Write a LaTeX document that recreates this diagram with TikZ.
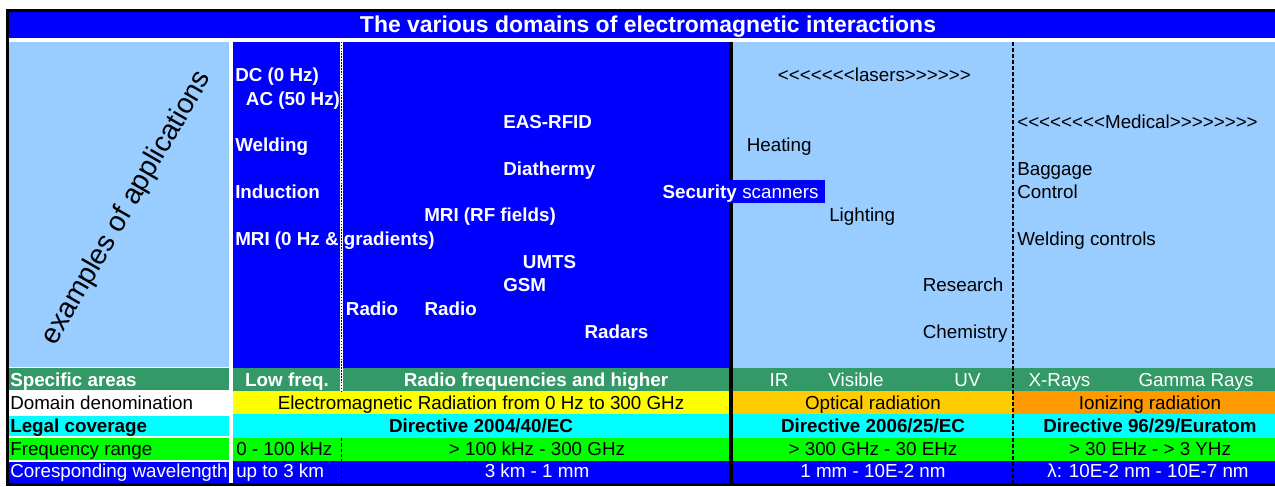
\documentclass[tikz,border=0pt]{standalone}
\usepackage{fontspec}
\setmainfont{Liberation Sans}
\definecolor{pureblue}{HTML}{0000FF}
\definecolor{paleblue}{HTML}{99CCFF}
\definecolor{seagrn}{HTML}{339966}
\definecolor{brightgrn}{HTML}{00FF00}
\definecolor{brightcyan}{HTML}{00FFFF}
\definecolor{brightyel}{HTML}{FFFF00}
\definecolor{goldyel}{HTML}{FFCC00}
\definecolor{brightorange}{HTML}{FF9900}
\newcommand\txtfont{\fontsize{14.1}{16}\selectfont}
\newcommand\headfont{\fontsize{17.2}{20}\selectfont}
\newcommand\slantfont{\fontsize{21.3}{25}\selectfont}
% single angle brackets, kept apart so that no guillemet ligature forms
\newcommand\lt{\mbox{<}}
\newcommand\gt{\mbox{>}}
\begin{document}
\begin{tikzpicture}[x=0.75pt,y=-0.75pt,
  appw/.style={anchor=base west, inner sep=0pt, font=\txtfont\bfseries, text=white},
  appk/.style={anchor=base west, inner sep=0pt, font=\txtfont, text=black},
  lbl/.style={anchor=base west, inner sep=0pt, font=\txtfont},
  mid/.style={anchor=base, inner sep=0pt, font=\txtfont},
  divider/.style={black, line width=1.1pt, dash pattern=on 3pt off 1.5pt}]
\useasboundingbox (0,0) rectangle (1275,486);

% outer frame and title band
\fill[black] (6,9) rectangle (1275,486);
\fill[white] (9,11.7) rectangle (1275,483);
\fill[pureblue] (9,11.7) rectangle (1275,37.7);

% application area
\fill[paleblue] (9,41.7) rectangle (229,366.5);
\fill[pureblue] (233,41.7) rectangle (729,367.5);
\fill[paleblue] (733,41.7) rectangle (1275,367.5);

% left column of the table
\fill[seagrn] (9,368.3) rectangle (229,390);
\fill[brightcyan] (9,416) rectangle (229,436.3);
\fill[brightgrn] (9,438.3) rectangle (229,460);
\fill[pureblue] (9,461.7) rectangle (229,483);

% table body
\fill[seagrn] (233,368.3) rectangle (1275,391);
\fill[brightyel] (233,391) rectangle (729,414);
\fill[goldyel] (733,391) rectangle (1013,414);
\fill[brightorange] (1013,391) rectangle (1275,414);
\fill[brightcyan] (233,414) rectangle (1275,438);
\fill[brightgrn] (233,438) rectangle (1275,461);
\fill[pureblue] (233,461) rectangle (1275,483);

% separators
\fill[black] (729,41.7) rectangle (733,483);
\fill[white] (339.5,41.7) rectangle (342.5,391);
\draw[black, line width=0.75pt, dash pattern=on 1.1pt off 1.1pt] (341,41.7) -- (341,391);
\draw[black, line width=0.75pt, dash pattern=on 2.5pt off 1.5pt] (341,438) -- (341,483);
\draw[divider] (1013,41.7) -- (1013,483);

% highlighted label crossing the boundary
\fill[pureblue] (729,180) rectangle (825,203);

% title
\node[anchor=base, inner sep=0pt, font=\headfont\bfseries, text=white] (title) at (648,32)
  {The various domains of electromagnetic interactions};

% rotated heading
\node[font=\slantfont, rotate=60] (apps) at (127,208) {examples of applications};

% low frequency and radio applications
\node[appw] (dc) at (235,81.7) {DC (0 Hz)};
\node[appw] (ac) at (245.7,105) {AC (50 Hz)};
\node[appw] (eas) at (503,128.3) {EAS-RFID};
\node[appw] (weld) at (235,151.7) {Welding};
\node[appw] (diat) at (503,175) {Diathermy};
\node[appw] (induc) at (235,198.3) {Induction};
\node[anchor=base east, inner sep=0pt, font=\txtfont\bfseries, text=white] (secu) at (737,198.3) {Security};
\node[anchor=base west, inner sep=0pt, font=\txtfont, text=white] (scan) at (742,198.3) {scanners};
\node[appw] (mrirf) at (424,221.7) {MRI (RF fields)};
\node[appw] (mrigr) at (235,245) {MRI (0 Hz \& gradients)};
\node[appw] (umts) at (522.7,268.3) {UMTS};
\node[appw] (gsm) at (503,291.7) {GSM};
\node[appw] (radioa) at (345.7,315) {Radio};
\node[appw] (radiob) at (424.3,315) {Radio};
\node[appw] (radars) at (584.3,338.3) {Radars};

% optical and ionizing applications
\node[appk] (lasers) at (777.7,81.7) {\lt\lt\lt\lt\lt\lt\lt lasers\gt\gt\gt\gt\gt\gt};
\node[appk] (medical) at (1017,128.3) {\lt\lt\lt\lt\lt\lt\lt\lt Medical\gt\gt\gt\gt\gt\gt\gt\gt};
\node[appk] (heat) at (746.5,151.7) {Heating};
\node[appk] (bag) at (1017,175) {Baggage};
\node[appk] (ctrl) at (1017,198.3) {Control};
\node[appk] (light) at (829,221.7) {Lighting};
\node[appk] (wctrl) at (1017,245) {Welding controls};
\node[appk] (resea) at (922.6,291.7) {Research};
\node[appk] (chem) at (922.6,338.3) {Chemistry};

% row: specific areas
\node[lbl, font=\txtfont\bfseries, text=white] (r1l) at (10,386) {Specific areas};
\node[mid, font=\txtfont\bfseries, text=white] (lowf) at (287,386) {Low freq.};
\node[mid, font=\txtfont\bfseries, text=white] (rfh) at (536,386) {Radio frequencies and higher};
\node[mid, text=white] (ir) at (779,386) {IR};
\node[mid, text=white] (vis) at (856,386) {Visible};
\node[mid, text=white] (uv) at (967.5,386) {UV};
\node[mid, text=white] (xr) at (1059.5,386) {X-Rays};
\node[mid, text=white] (gr) at (1196,386) {Gamma Rays};

% row: domain denomination
\node[lbl] (r2l) at (10,409.3) {Domain denomination};
\node[mid] (emr) at (481,409.3) {Electromagnetic Radiation from 0 Hz to 300 GHz};
\node[mid] (opt) at (873,409.3) {Optical radiation};
\node[mid] (ion) at (1150,409.3) {Ionizing radiation};

% row: legal coverage
\node[lbl, font=\txtfont\bfseries] (r3l) at (10,432) {Legal coverage};
\node[mid, font=\txtfont\bfseries] (d1) at (481,432) {Directive 2004/40/EC};
\node[mid, font=\txtfont\bfseries] (d2) at (873,432) {Directive 2006/25/EC};
\node[mid, font=\txtfont\bfseries] (d3) at (1150,432) {Directive 96/29/Euratom};

% row: frequency range
\node[lbl] (r4l) at (10,455) {Frequency range};
\node[lbl] (f1) at (236,455) {0 - 100 kHz};
\node[mid] (f2) at (537,455) {> 100 kHz - 300 GHz};
\node[mid] (f3) at (873,455) {> 300 GHz - 30 EHz};
\node[mid] (f4) at (1150,455) {> 30 EHz - > 3 YHz};

% row: wavelength
\node[lbl, text=white] (r5l) at (10,477.7) {Coresponding wavelength};
\node[lbl, text=white] (w1) at (236,477.7) {up to 3 km};
\node[mid, text=white] (w2) at (537,477.7) {3 km - 1 mm};
\node[mid, text=white] (w3) at (873,477.7) {1 mm - 10E-2 nm};
\node[mid, text=white] (w4) at (1148,477.7) {λ: 10E-2 nm - 10E-7 nm};
\end{tikzpicture}
\end{document}
